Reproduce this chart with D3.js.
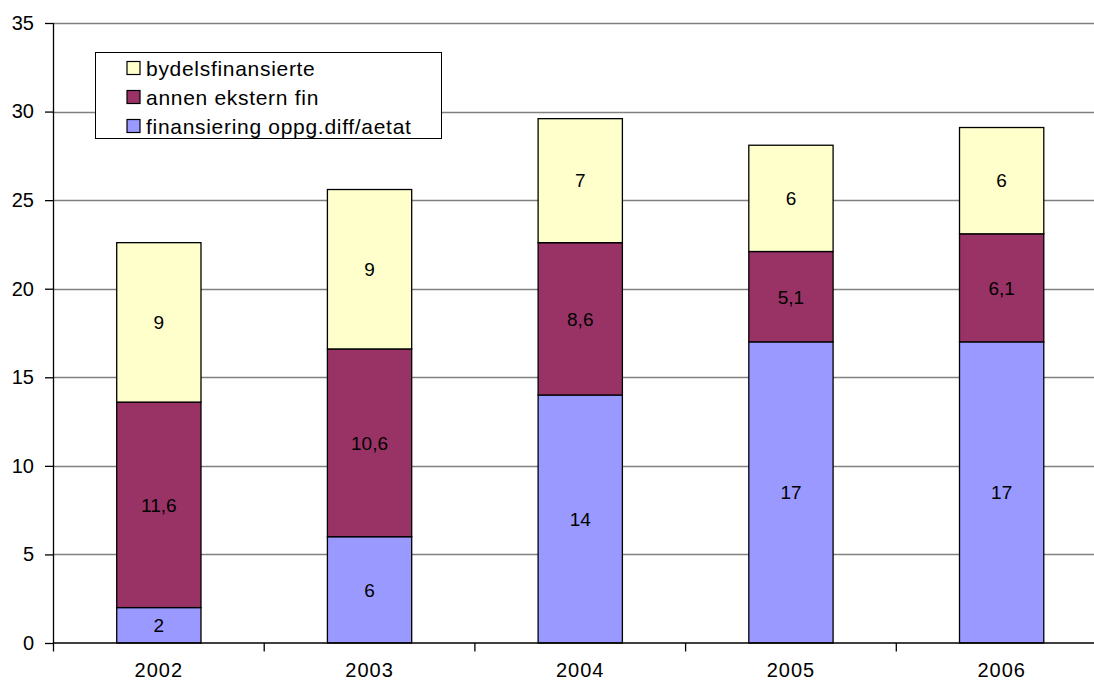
<!DOCTYPE html>
<html>
<head>
<meta charset="utf-8">
<script src="https://cdn.jsdelivr.net/npm/d3@7"></script>
<style>
  html, body { margin: 0; padding: 0; background: #fff; }
  svg { display: block; font-family: "Liberation Sans", Arial, sans-serif; }
</style>
</head>
<body>
<svg id="chart" width="1094" height="686"></svg>
<script>
// Financing per year, stacked
const years = ["2002", "2003", "2004", "2005", "2006"];
const finansiering = [2, 6, 14, 17, 17];
const annenEkstern = [11.6, 10.6, 8.6, 5.1, 6.1];
const bydelsfinansierte = [9, 9, 7, 6, 6];
const yTicks = [0, 5, 10, 15, 20, 25, 30, 35];

const seriesNames = ["finansiering oppg.diff/aetat", "annen ekstern fin", "bydelsfinansierte"];
const seriesValues = [finansiering, annenEkstern, bydelsfinansierte];
const colors = ["#9999FF", "#993366", "#FFFFCC"];

const svg = d3.select("#chart");
const plotLeft = 53.5, plotTop = 23, plotBottom = 643;
const band = 210.7;
const plotRight = plotLeft + band * years.length;

const x = d3.scaleBand().domain(years).range([plotLeft, plotRight]).paddingInner(0.6).paddingOuter(0.3);
const y = d3.scaleLinear().domain([0, 35]).range([plotBottom, plotTop]);

// gridlines
svg.append("g").selectAll("line").data(yTicks.filter(d => d > 0)).join("line")
  .attr("x1", plotLeft).attr("x2", plotRight)
  .attr("y1", d => Math.round(y(d)) + 0.5).attr("y2", d => Math.round(y(d)) + 0.5)
  .attr("stroke", "#808080").attr("stroke-width", 1.3);

// stacked data
const rows = years.map((yr, i) => {
  const r = { year: yr };
  seriesNames.forEach((s, k) => r[s] = seriesValues[k][i]);
  return r;
});
const stack = d3.stack().keys(seriesNames)(rows);

const g = svg.append("g");
stack.forEach((layer, k) => {
  g.append("g").selectAll("rect").data(layer).join("rect")
    .attr("x", d => x(d.data.year))
    .attr("width", x.bandwidth())
    .attr("y", d => y(d[1]))
    .attr("height", d => y(d[0]) - y(d[1]))
    .attr("fill", colors[k])
    .attr("stroke", "#000").attr("stroke-width", 1.3);
  g.append("g").selectAll("text").data(layer).join("text")
    .attr("x", d => x(d.data.year) + x.bandwidth() / 2)
    .attr("y", d => (y(d[0]) + y(d[1])) / 2)
    .attr("dy", "0.36em")
    .attr("text-anchor", "middle")
    .attr("font-size", 19)
    .attr("fill", "#000")
    .text(d => String(d.data[seriesNames[k]]).replace(".", ","));
});

// y axis
const yAxis = d3.axisLeft(y).tickValues(yTicks).tickSize(8.5).tickPadding(11);
const ya = svg.append("g").attr("transform", `translate(${plotLeft},0)`).call(yAxis);
ya.select(".domain").attr("stroke", "#000").attr("stroke-width", 1.3).attr("d", `M0,${plotTop}V${plotBottom}`);
ya.selectAll(".tick line").attr("stroke", "#000").attr("stroke-width", 1.3);
ya.selectAll(".tick text").attr("font-size", 20).attr("fill", "#000").attr("font-family", "Liberation Sans, Arial, sans-serif");

// x axis with ticks at category boundaries
const xa = svg.append("g");
xa.append("line").attr("x1", plotLeft).attr("x2", plotRight).attr("y1", plotBottom).attr("y2", plotBottom)
  .attr("stroke", "#000").attr("stroke-width", 1.3);
xa.selectAll("line.tk").data(d3.range(years.length + 1)).join("line").attr("class", "tk")
  .attr("x1", i => plotLeft + i * band).attr("x2", i => plotLeft + i * band)
  .attr("y1", plotBottom).attr("y2", plotBottom + 8.5)
  .attr("stroke", "#000").attr("stroke-width", 1.3);
xa.selectAll("text").data(years).join("text")
  .attr("x", d => x(d) + x.bandwidth() / 2)
  .attr("y", 677)
  .attr("text-anchor", "middle")
  .attr("font-size", 20)
  .attr("letter-spacing", 1)
  .text(d => d);

// legend
const lg = svg.append("g");
lg.append("rect").attr("x", 95.5).attr("y", 52.5).attr("width", 346).attr("height", 86)
  .attr("fill", "#fff").attr("stroke", "#000").attr("stroke-width", 1);
const legendOrder = [2, 1, 0];
legendOrder.forEach((k, i) => {
  const cy = 68 + i * 29;
  lg.append("rect").attr("x", 127).attr("y", cy - 6.5).attr("width", 13).attr("height", 13)
    .attr("fill", colors[k]).attr("stroke", "#000").attr("stroke-width", 1.2);
  lg.append("text").attr("x", 146).attr("y", cy).attr("dy", "0.36em")
    .attr("font-size", 21).attr("letter-spacing", 0.7).text(seriesNames[k]);
});
</script>
</body>
</html>
